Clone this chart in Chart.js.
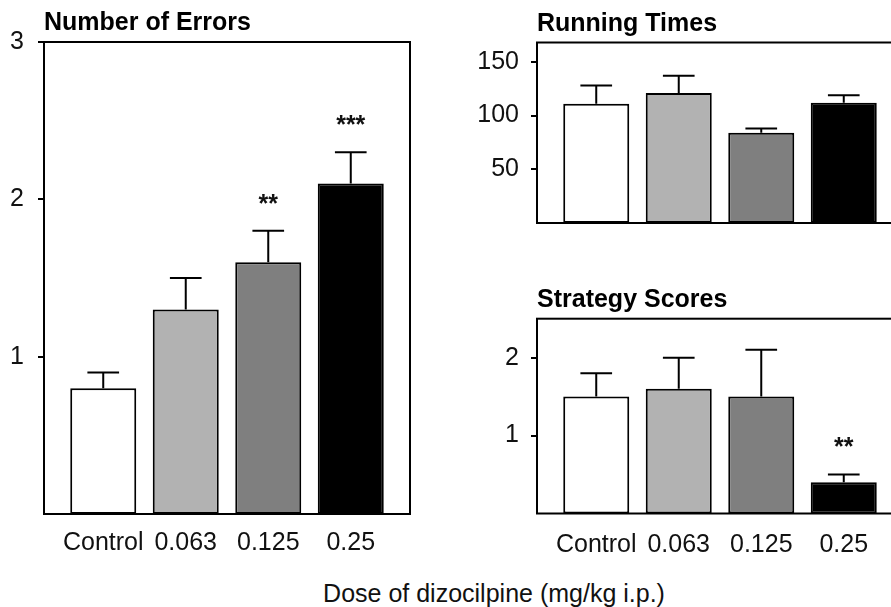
<!DOCTYPE html>
<html>
<head>
<meta charset="utf-8">
<script src="https://cdn.jsdelivr.net/npm/chart.js@4/dist/chart.umd.min.js"></script>
<style>
  html, body { margin: 0; padding: 0; background: #fff; overflow: hidden; }
  body { width: 891px; height: 607px; position: relative; }
  canvas { position: absolute; }
  #xTitle {
    position: absolute; left: 494px; top: 581px; transform: translateX(-50%);
    font: 25px 'Liberation Sans', Arial, sans-serif; line-height: 24px;
    color: #111; white-space: nowrap;
  }
</style>
</head>
<body>
<canvas id="errors" style="left:0;top:0;width:420px;height:570px" width="420" height="570"></canvas>
<canvas id="running" style="left:440px;top:0;width:470px;height:250px" width="470" height="250"></canvas>
<canvas id="strategy" style="left:440px;top:260px;width:470px;height:310px" width="470" height="310"></canvas>
<div id="xTitle">Dose of dizocilpine (mg/kg i.p.)</div>
<script>
// Dose groups
const categories = ['Control', '0.063', '0.125', '0.25'];
const barColors = ['#ffffff', '#b2b2b2', '#7f7f7f', '#000000'];

// Number of errors: mean, SEM, significance marks
const errorsMean = [0.8, 1.3, 1.6, 2.1];
const errorsSem = [0.1, 0.2, 0.2, 0.2];
const errorsSig = ['', '', '**', '***'];
const errorsTicks = [1, 2, 3];

// Running times
const runningMean = [111, 121, 84, 112];
const runningSem = [17, 16, 4, 7];
const runningSig = ['', '', '', ''];
const runningTicks = [50, 100, 150];

// Strategy scores
const strategyMean = [1.5, 1.6, 1.5, 0.4];
const strategySem = [0.3, 0.4, 0.6, 0.1];
const strategySig = ['', '', '', '**'];
const strategyTicks = [1, 2];

const FONT = "'Liberation Sans', Arial, sans-serif";
const INK = '#111';

// Upward error bars with caps, plus significance asterisks above them
const errorBars = {
  id: 'errorBars',
  afterDatasetsDraw(chart, args, opts) {
    const { ctx } = chart;
    const yScale = chart.scales.y;
    const meta = chart.getDatasetMeta(0);
    const ds = chart.data.datasets[0];
    ctx.save();
    ctx.strokeStyle = '#000';
    ctx.lineWidth = 2;
    ctx.fillStyle = INK;
    ctx.font = 'bold 25px ' + FONT;
    ctx.textAlign = 'center';
    ctx.textBaseline = 'middle';
    meta.data.forEach((bar, i) => {
      const v = ds.data[i].y;
      const capY = yScale.getPixelForValue(v + opts.sem[i]);
      const half = bar.width * 0.24;
      ctx.beginPath();
      ctx.moveTo(bar.x, bar.y);
      ctx.lineTo(bar.x, capY);
      ctx.moveTo(bar.x - half, capY);
      ctx.lineTo(bar.x + half, capY);
      ctx.stroke();
      if (opts.sig[i]) {
        ctx.fillText(opts.sig[i], bar.x, capY - 26);
      }
    });
    ctx.restore();
  }
};

// Closed frame around the plotting area
const frame = {
  id: 'frame',
  afterDraw(chart) {
    const { ctx, chartArea: a } = chart;
    ctx.save();
    ctx.strokeStyle = '#000';
    ctx.lineWidth = 2;
    ctx.strokeRect(a.left, a.top, a.right - a.left, a.bottom - a.top);
    ctx.restore();
  }
};

function makePanel(id, cfg) {
  const data = categories.map((c, i) => ({ x: i, y: cfg.mean[i] }));
  return new Chart(document.getElementById(id), {
    type: 'bar',
    data: {
      datasets: [{
        data,
        backgroundColor: barColors,
        borderColor: '#000',
        borderWidth: 2,
        borderSkipped: false,
        categoryPercentage: 1,
        barPercentage: 0.8
      }]
    },
    options: {
      responsive: false,
      animation: false,
      events: [],
      layout: { padding: { left: 0, right: cfg.padRight, top: 0, bottom: 0 } },
      plugins: {
        legend: { display: false },
        tooltip: { enabled: false },
        title: {
          display: true,
          text: cfg.title,
          align: 'start',
          fullSize: false,
          color: '#000',
          font: { family: FONT, size: 25, weight: 'bold', lineHeight: 1.2 },
          padding: { top: cfg.titleTop, bottom: cfg.titleBottom }
        },
        errorBars: { sem: cfg.sem, sig: cfg.sig }
      },
      scales: {
        x: {
          type: 'linear',
          offset: false,
          min: -0.718,
          max: 3.718,
          afterBuildTicks: (axis) => { axis.ticks = categories.map((c, i) => ({ value: i })); },
          afterFit: (axis) => { axis.height = cfg.xHeight; },
          grid: { display: false, drawTicks: false },
          border: { display: false },
          ticks: {
            display: cfg.showX,
            autoSkip: false,
            maxRotation: 0,
            padding: cfg.xPad,
            color: INK,
            font: { family: FONT, size: 25 },
            callback: (v) => categories[v] ?? ''
          }
        },
        y: {
          min: 0,
          max: cfg.max,
          afterBuildTicks: (axis) => { axis.ticks = cfg.ticks.map(v => ({ value: v })); },
          afterFit: (axis) => { axis.width = cfg.yWidth; },
          grid: {
            drawOnChartArea: false,
            drawTicks: true,
            tickLength: 6,
            color: '#000',
            lineWidth: 2
          },
          border: { display: false },
          ticks: {
            padding: cfg.yPad,
            color: INK,
            font: { family: FONT, size: 25 }
          }
        }
      }
    },
    plugins: [errorBars, frame]
  });
}

makePanel('errors', {
  title: 'Number of Errors', mean: errorsMean, sem: errorsSem, sig: errorsSig,
  ticks: errorsTicks, max: 3, yWidth: 44, padRight: 10, xHeight: 56,
  xPad: 14, yPad: 14, showX: true, titleTop: 8.6, titleBottom: 3.4
});

makePanel('running', {
  title: 'Running Times', mean: runningMean, sem: runningSem, sig: runningSig,
  ticks: runningTicks, max: 168, yWidth: 97, padRight: 7, xHeight: 11.5,
  xPad: 15, yPad: 12, showX: false, titleTop: 9.1, titleBottom: 3.4
});

makePanel('strategy', {
  title: 'Strategy Scores', mean: strategyMean, sem: strategySem, sig: strategySig,
  ticks: strategyTicks, max: 2.5, yWidth: 97, padRight: 7, xHeight: 56.5,
  xPad: 17, yPad: 12, showX: true, titleTop: 25.1, titleBottom: 3.6
});
</script>
</body>
</html>
